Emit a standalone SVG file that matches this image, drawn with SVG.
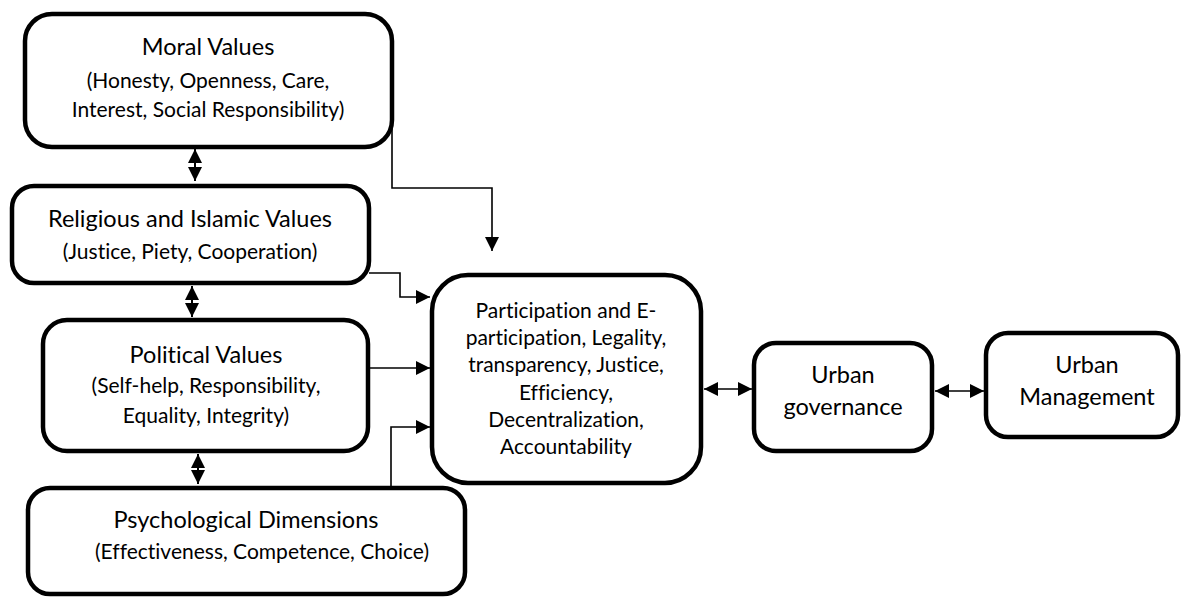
<svg xmlns="http://www.w3.org/2000/svg" width="1182" height="597" viewBox="0 0 1182 597">
<defs>
<style>
.box{fill:#fff;stroke:#000;stroke-width:4.5}
.t{font-family:Lato,"Liberation Sans",sans-serif;font-size:21px;fill:#000;text-anchor:middle;font-variant-ligatures:none;font-feature-settings:"liga" 0,"dlig" 0}
.h{font-size:23.5px}
.c{fill:none;stroke:#000;stroke-width:1.6}
.d{fill:none;stroke:#000;stroke-width:2}
</style>
<marker id="ah" viewBox="0 0 10 10" refX="10" refY="5" markerWidth="14" markerHeight="14" markerUnits="userSpaceOnUse" orient="auto-start-reverse"><path d="M0,0 L10,5 L0,10 z" fill="#000"/></marker>
</defs>
<rect width="1182" height="597" fill="#fff"/>
<g id="connectors">
<path class="c" d="M392,127 V188 H492 V251" marker-end="url(#ah)"/>
<path class="c" d="M369,273 H400 V297 H430" marker-end="url(#ah)"/>
<path class="c" d="M369,368 H430" marker-end="url(#ah)"/>
<path class="c" d="M391,488 V427 H430" marker-end="url(#ah)"/>
<path class="d" d="M195,149 V181" marker-start="url(#ah)" marker-end="url(#ah)"/>
<path class="d" d="M192,286 V317" marker-start="url(#ah)" marker-end="url(#ah)"/>
<path class="d" d="M198,454 V484" marker-start="url(#ah)" marker-end="url(#ah)"/>
<path class="c" d="M704,389 H752" marker-start="url(#ah)" marker-end="url(#ah)"/>
<path class="c" d="M935,391 H984" marker-start="url(#ah)" marker-end="url(#ah)"/>
</g>
<g id="moral">
<rect class="box" x="25" y="14" width="367" height="133" rx="27"/>
<text class="t h" x="208" y="55">Moral Values</text>
<text class="t" x="208" y="88">(Honesty, Openness, Care,</text>
<text class="t" x="208" y="117">Interest, Social Responsibility)</text>
</g>
<g id="religious">
<rect class="box" x="12" y="186" width="357" height="97" rx="22"/>
<text class="t h" x="190" y="227">Religious and Islamic Values</text>
<text class="t" x="190" y="259">(Justice, Piety, Cooperation)</text>
</g>
<g id="political">
<rect class="box" x="43" y="320" width="325" height="131" rx="24"/>
<text class="t h" x="206" y="363">Political Values</text>
<text class="t" x="206" y="393">(Self-help, Responsibility,</text>
<text class="t" x="206" y="423">Equality, Integrity)</text>
</g>
<g id="psychological">
<rect class="box" x="28" y="488" width="437" height="106" rx="22"/>
<text class="t h" x="246" y="528">Psychological Dimensions</text>
<text class="t" x="262" y="559">(Effectiveness, Competence, Choice)</text>
</g>
<g id="principles">
<rect class="box" x="432" y="275" width="269" height="208" rx="36"/>
<text class="t" x="566" y="318">Participation and E-</text>
<text class="t" x="566" y="345">participation, Legality,</text>
<text class="t" x="566" y="372">transparency, Justice,</text>
<text class="t" x="566" y="400">Efficiency,</text>
<text class="t" x="566" y="427">Decentralization,</text>
<text class="t" x="566" y="454">Accountability</text>
</g>
<g id="governance">
<rect class="box" x="754" y="343" width="178" height="108" rx="22"/>
<text class="t h" x="843" y="383">Urban</text>
<text class="t h" x="843" y="415">governance</text>
</g>
<g id="management">
<rect class="box" x="986" y="333" width="192" height="104" rx="22"/>
<text class="t h" x="1087" y="373">Urban</text>
<text class="t h" x="1087" y="405">Management</text>
</g>
</svg>
